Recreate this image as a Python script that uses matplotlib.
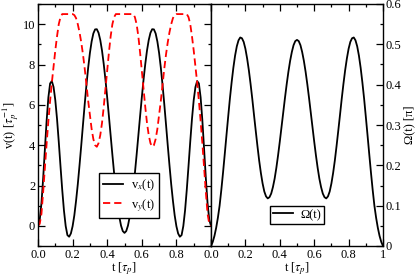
import matplotlib
matplotlib.use("Agg")
import matplotlib.pyplot as plt
from matplotlib.ticker import MultipleLocator, FixedLocator, FixedFormatter

plt.rcParams['font.family'] = ['Liberation Serif', 'DejaVu Serif']
plt.rcParams['mathtext.fontset'] = 'stix'
plt.rcParams['font.size'] = 9

# time grid in units of tau_p
t = [0.00, 0.01, 0.02, 0.03, 0.04, 0.05, 0.06, 0.07, 0.08, 0.09,
     0.10, 0.11, 0.12, 0.13, 0.14, 0.15, 0.16, 0.17, 0.18, 0.19,
     0.20, 0.21, 0.22, 0.23, 0.24, 0.25, 0.26, 0.27, 0.28, 0.29,
     0.30, 0.31, 0.32, 0.33, 0.34, 0.35, 0.36, 0.37, 0.38, 0.39,
     0.40, 0.41, 0.42, 0.43, 0.44, 0.45, 0.46, 0.47, 0.48, 0.49,
     0.50, 0.51, 0.52, 0.53, 0.54, 0.55, 0.56, 0.57, 0.58, 0.59,
     0.60, 0.61, 0.62, 0.63, 0.64, 0.65, 0.66, 0.67, 0.68, 0.69,
     0.70, 0.71, 0.72, 0.73, 0.74, 0.75, 0.76, 0.77, 0.78, 0.79,
     0.80, 0.81, 0.82, 0.83, 0.84, 0.85, 0.86, 0.87, 0.88, 0.89,
     0.90, 0.91, 0.92, 0.93, 0.94, 0.95, 0.96, 0.97, 0.98, 0.99,
     1.00]

vx = [0.00, 0.30, 1.13, 2.38, 3.82, 5.23, 6.37, 7.06, 7.18, 6.88,
      6.23, 5.30, 4.17, 2.96, 1.79, 0.76, -0.01, -0.46, -0.54, -0.38,
      -0.02, 0.52, 1.24, 2.06, 3.00, 3.99, 5.02, 6.03, 6.98, 7.84,
      8.57, 9.14, 9.54, 9.74, 9.75, 9.57, 9.21, 8.69, 8.02, 7.24,
      6.36, 5.43, 4.47, 3.52, 2.61, 1.78, 1.05, 0.45, 0.01, -0.26,
      -0.35, -0.26, 0.01, 0.45, 1.05, 1.78, 2.61, 3.52, 4.47, 5.43,
      6.36, 7.24, 8.02, 8.69, 9.21, 9.57, 9.75, 9.74, 9.54, 9.14,
      8.57, 7.84, 6.98, 6.03, 5.02, 3.99, 3.00, 2.06, 1.24, 0.52,
      -0.02, -0.38, -0.54, -0.46, -0.01, 0.76, 1.79, 2.96, 4.17, 5.30,
      6.23, 6.88, 7.18, 7.06, 6.37, 5.23, 3.82, 2.38, 1.13, 0.30,
      0.00]

vy = [0.00, 0.10, 0.60, 1.70, 2.90, 4.10, 5.20, 6.20, 7.10, 7.90,
      8.70, 9.40, 10.00, 10.35, 10.50, 10.50, 10.50, 10.50, 10.50, 10.50,
      10.50, 10.45, 10.30, 10.00, 9.60, 9.10, 8.50, 7.80, 7.00, 6.20,
      5.50, 4.80, 4.30, 4.00, 3.92, 4.10, 4.50, 5.10, 5.90, 6.80,
      7.70, 8.60, 9.40, 10.00, 10.35, 10.50, 10.50, 10.50, 10.50, 10.50,
      10.50, 10.50, 10.50, 10.50, 10.50, 10.50, 10.35, 10.00, 9.40, 8.60,
      7.70, 6.80, 5.90, 5.10, 4.50, 4.10, 3.92, 4.00, 4.30, 4.80,
      5.50, 6.20, 7.00, 7.80, 8.50, 9.10, 9.60, 10.00, 10.30, 10.45,
      10.50, 10.50, 10.50, 10.50, 10.50, 10.50, 10.50, 10.35, 10.00, 9.40,
      8.70, 7.90, 7.10, 6.20, 5.20, 4.10, 2.90, 1.70, 0.60, 0.10,
      0.00]

omega = [0.000, 0.010, 0.025, 0.045, 0.070, 0.100, 0.139, 0.182, 0.228, 0.275,
         0.321, 0.366, 0.406, 0.442, 0.472, 0.495, 0.510, 0.517, 0.515, 0.506,
         0.489, 0.465, 0.436, 0.402, 0.365, 0.325, 0.286, 0.248, 0.212, 0.181,
         0.155, 0.135, 0.123, 0.118, 0.121, 0.130, 0.146, 0.167, 0.194, 0.225,
         0.259, 0.295, 0.331, 0.367, 0.401, 0.432, 0.459, 0.481, 0.498, 0.508,
         0.511, 0.508, 0.498, 0.481, 0.459, 0.432, 0.401, 0.367, 0.331, 0.295,
         0.259, 0.225, 0.194, 0.167, 0.146, 0.130, 0.121, 0.118, 0.123, 0.135,
         0.155, 0.181, 0.212, 0.248, 0.286, 0.325, 0.365, 0.402, 0.436, 0.465,
         0.489, 0.506, 0.515, 0.517, 0.510, 0.495, 0.472, 0.442, 0.406, 0.366,
         0.321, 0.275, 0.228, 0.182, 0.139, 0.100, 0.070, 0.045, 0.025, 0.010,
         0.000]

W, H = 415, 276
fig = plt.figure(figsize=(W / 100, H / 100), dpi=100)
ax1 = fig.add_axes([38 / W, 30 / H, 173 / W, 242 / H])
ax2 = fig.add_axes([211 / W, 30 / H, 172 / W, 242 / H])

lw = 1.3
ax1.plot(t, vx, color='black', lw=lw, label=r'v$_x$(t)')
ax1.plot(t, vy, color='red', lw=lw, ls=(0, (4, 2.2)), label=r'v$_y$(t)')
ax2.plot(t, omega, color='black', lw=lw, label='\u03a9(t)')

ax1.set_xlim(0, 1)
ax1.set_ylim(-1, 11)
ax2.set_xlim(0, 1)
ax2.set_ylim(0, 0.6)

for ax in (ax1, ax2):
    for s in ax.spines.values():
        s.set_linewidth(1.0)
    ax.xaxis.set_minor_locator(MultipleLocator(0.1))
    ax.tick_params(which='both', direction='in', top=True, width=0.9, pad=2)
    ax.tick_params(which='major', length=5)
    ax.tick_params(which='minor', length=2.5)
    ax.set_xlabel(r't [$\tau_p$]', labelpad=0)

ax1.xaxis.set_major_locator(FixedLocator([0, 0.2, 0.4, 0.6, 0.8, 1.0]))
ax1.xaxis.set_major_formatter(FixedFormatter(['0.0', '0.2', '0.4', '0.6', '0.8', '']))
ax1.yaxis.set_major_locator(MultipleLocator(2))
ax1.yaxis.set_minor_locator(MultipleLocator(1))
ax1.tick_params(which='both', right=True)
ax1.set_ylabel(r'v(t) [$\tau_p^{-1}$]', labelpad=1)

ax2.xaxis.set_major_locator(FixedLocator([0, 0.2, 0.4, 0.6, 0.8, 1.0]))
ax2.xaxis.set_major_formatter(FixedFormatter(['0.0', '0.2', '0.4', '0.6', '0.8', '1']))
ax2.yaxis.set_major_locator(FixedLocator([0, 0.1, 0.2, 0.3, 0.4, 0.5, 0.6]))
ax2.yaxis.set_major_formatter(FixedFormatter(['0', '0.1', '0.2', '0.3', '0.4', '0.5', '0.6']))
ax2.yaxis.set_minor_locator(MultipleLocator(0.05))
ax2.tick_params(which='both', left=False, right=True, labelleft=False, labelright=True)
ax2.yaxis.set_label_position('right')
ax2.set_ylabel('\u03a9(t) [\u03c0]', labelpad=1)

leg1 = ax1.legend(loc='lower left', bbox_to_anchor=(0.353, 0.116), borderaxespad=0,
                  fancybox=False, edgecolor='black', framealpha=1, handlelength=1.6,
                  handletextpad=0.6, borderpad=0.35, labelspacing=0.3)
leg1.get_frame().set_linewidth(1.0)
leg2 = ax2.legend(loc='lower left', bbox_to_anchor=(0.343, 0.091), borderaxespad=0,
                  fancybox=False, edgecolor='black', framealpha=1, handlelength=1.6,
                  handletextpad=0.6, borderpad=0.25)
leg2.get_frame().set_linewidth(1.0)

fig.savefig('out.png', dpi=100)
